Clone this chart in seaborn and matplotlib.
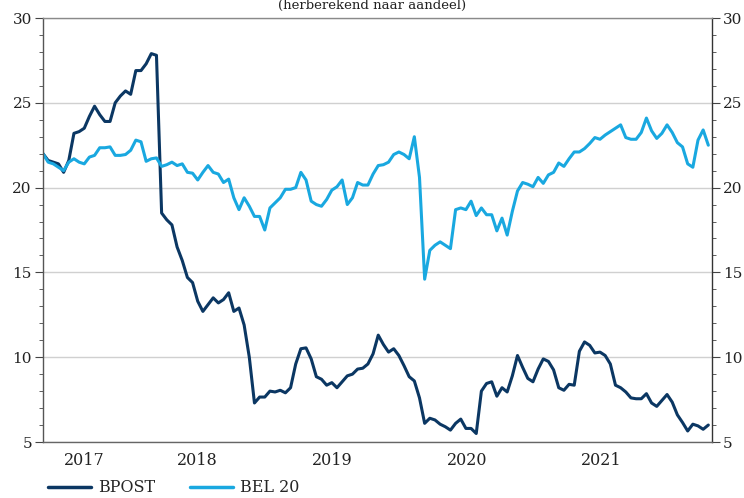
import pandas as pd
import matplotlib
matplotlib.use("Agg")
import matplotlib.pyplot as plt
import matplotlib.dates as mdates
from matplotlib.ticker import MultipleLocator
from matplotlib.lines import Line2D
import seaborn as sns

# koersen om de twee weken, herberekend naar aandeel
start_date = "2017-05-08"
step = "14D"

bpost = [
    22.0, 21.6, 21.5, 21.4, 20.9, 21.6, 23.2, 23.3, 23.5, 24.2,
    24.8, 24.3, 23.9, 23.9, 25.0, 25.4, 25.7, 25.5, 26.9, 26.9,
    27.3, 27.9, 27.8, 18.5, 18.1, 17.8, 16.5, 15.7, 14.7, 14.4,
    13.3, 12.7, 13.1, 13.5, 13.2, 13.4, 13.8, 12.7, 12.9, 11.9,
    10.0, 7.3, 7.65, 7.65, 8.0, 7.95, 8.05, 7.9, 8.2, 9.6,
    10.5, 10.55, 9.9, 8.85, 8.7, 8.35, 8.5, 8.2, 8.55, 8.9,
    9.0, 9.3, 9.35, 9.6, 10.2, 11.3, 10.75, 10.3, 10.5, 10.1,
    9.5, 8.85, 8.6, 7.6, 6.1, 6.4, 6.3, 6.05, 5.9, 5.7,
    6.1, 6.35, 5.8, 5.8, 5.5, 8.0, 8.45, 8.55, 7.7, 8.2,
    7.95, 8.9, 10.1, 9.4, 8.75, 8.55, 9.3, 9.9, 9.75, 9.25,
    8.2, 8.05, 8.4, 8.35, 10.35, 10.9, 10.7, 10.25, 10.3, 10.1,
    9.6, 8.35, 8.2, 7.95, 7.6, 7.55, 7.55, 7.85, 7.3, 7.1,
    7.45, 7.8, 7.35, 6.6, 6.15, 5.65, 6.05, 5.95, 5.75, 6.0,
]

bel20 = [
    22.0, 21.5, 21.4, 21.2, 21.0, 21.5, 21.7, 21.5, 21.4, 21.8,
    21.9, 22.35, 22.35, 22.4, 21.9, 21.9, 21.95, 22.2, 22.8, 22.7,
    21.55, 21.7, 21.75, 21.25, 21.35, 21.5, 21.3, 21.4, 20.9, 20.85,
    20.45, 20.9, 21.3, 20.9, 20.8, 20.3, 20.5, 19.4, 18.7, 19.4,
    18.9, 18.3, 18.3, 17.5, 18.8, 19.1, 19.4, 19.9, 19.9, 20.0,
    20.9, 20.45, 19.2, 19.0, 18.9, 19.3, 19.85, 20.05, 20.45, 19.0,
    19.4, 20.3, 20.15, 20.15, 20.8, 21.3, 21.35, 21.5, 21.95, 22.1,
    21.95, 21.7, 23.0, 20.6, 14.6, 16.3, 16.6, 16.8, 16.6, 16.4,
    18.7, 18.8, 18.7, 19.2, 18.35, 18.8, 18.4, 18.4, 17.45, 18.2,
    17.2, 18.6, 19.8, 20.3, 20.2, 20.05, 20.6, 20.25, 20.75, 20.9,
    21.45, 21.25, 21.7, 22.1, 22.1, 22.3, 22.6, 22.95, 22.85, 23.1,
    23.3, 23.5, 23.7, 22.95, 22.85, 22.85, 23.25, 24.1, 23.35, 22.9,
    23.2, 23.7, 23.25, 22.65, 22.4, 21.4, 21.2, 22.8, 23.4, 22.5,
]

series_names = ["BPOST", "BEL 20"]
colors = {"BPOST": "#0b3763", "BEL 20": "#19a8e0"}
year_labels = ["2017", "2018", "2019", "2020", "2021"]
label_dates = ["2017-08-28", "2018-07-02", "2019-07-02", "2020-07-02", "2021-07-02"]

dates = pd.date_range(start_date, periods=len(bpost), freq=step)
df = pd.DataFrame({"datum": dates, "BPOST": bpost, "BEL 20": bel20})
df = df.melt(id_vars="datum", var_name="reeks", value_name="koers")

sns.set_style("white")
plt.rcParams["font.family"] = ["DejaVu Serif"]

fig = plt.figure(figsize=(7.44, 4.98), dpi=100)
ax = fig.add_axes([43 / 744, 56 / 498, 669 / 744, 424 / 498])

sns.lineplot(data=df, x="datum", y="koers", hue="reeks", hue_order=series_names,
             palette=colors, linewidth=2.2, legend=False, ax=ax)

ax.set_xlim(dates[0], dates[-1] + pd.Timedelta(days=10))
ax.set_ylim(5, 30)
ax.set_xlabel("")
ax.set_ylabel("")

# y-as links en rechts
ax.yaxis.set_major_locator(MultipleLocator(5))
ax.yaxis.set_minor_locator(MultipleLocator(1))
ax.tick_params(axis="y", which="both", left=True, right=True, labelleft=True,
               labelright=True, direction="out", colors="#444444", labelcolor="#222222")
ax.tick_params(axis="y", which="major", length=6, labelsize=11, pad=2)
ax.tick_params(axis="y", which="minor", length=3)
ax.grid(axis="y", which="major", color="#d0d0d0", linewidth=1)
ax.grid(axis="x", visible=False)

# x-as: jaren + kwartalen
ax.xaxis.set_major_locator(mdates.YearLocator())
ax.xaxis.set_minor_locator(mdates.MonthLocator(bymonth=[4, 7, 10]))
ax.xaxis.set_major_formatter(plt.NullFormatter())
ax.tick_params(axis="x", which="major", length=6, direction="out", colors="#444444")
ax.tick_params(axis="x", which="minor", length=3, direction="out", colors="#444444")
for lab, d in zip(year_labels, label_dates):
    ax.text(pd.Timestamp(d), -0.043, lab, transform=ax.get_xaxis_transform(),
            ha="center", va="center", fontsize=11.5, color="#222222")

for side, col in [("left", "#555555"), ("bottom", "#666666"), ("top", "#8a8a8a"), ("right", "#333333")]:
    ax.spines[side].set_visible(True)
    ax.spines[side].set_color(col)
    ax.spines[side].set_linewidth(1)

fig.text(0.5, 1 - 9 / 498, "(herberekend naar aandeel)", ha="center", va="baseline",
         fontsize=9.5, color="#222222")

handles = [Line2D([0], [0], color=colors[n], linewidth=2.5) for n in series_names]
fig.legend(handles, series_names, loc="lower left", bbox_to_anchor=(46 / 744, 0.0),
           ncol=2, frameon=False, fontsize=11.5, handlelength=2.7, handletextpad=0.45,
           columnspacing=2.2, borderpad=0.1, borderaxespad=0)

fig.savefig("out.png", dpi=100)
